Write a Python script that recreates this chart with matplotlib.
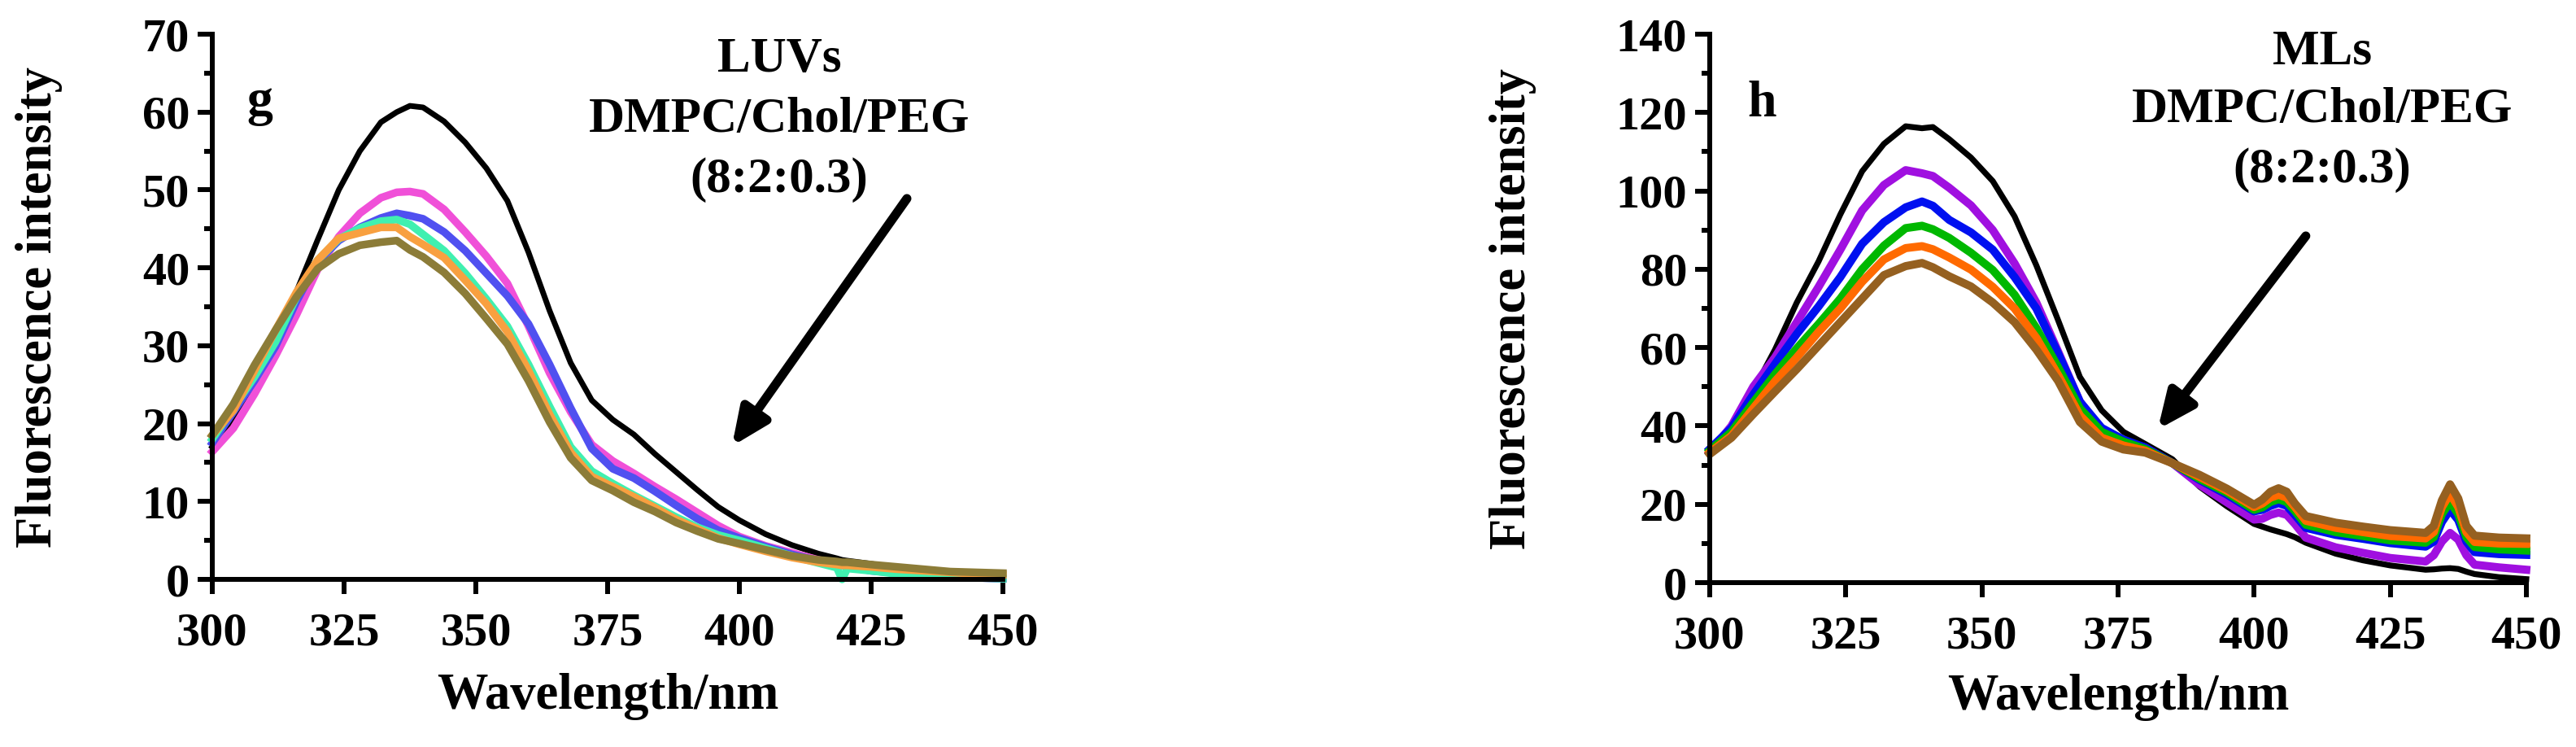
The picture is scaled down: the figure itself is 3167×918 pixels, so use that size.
import matplotlib
matplotlib.use("Agg")
import matplotlib.pyplot as plt
from matplotlib.ticker import MultipleLocator

plt.rcParams['font.family'] = ['Liberation Serif', 'DejaVu Serif']
plt.rcParams['font.weight'] = 'bold'

# ---------------- panel g (LUVs) ----------------
wl_g = [300, 304, 308, 312, 316, 320, 324, 328, 332, 335, 337.5, 340, 344, 348, 352, 356, 360,
        364, 368, 372, 376, 380, 384, 388, 392, 396, 400, 405, 410, 415, 418.5, 419.5, 420.5,
        425, 430, 435, 440, 445, 450]
g_black = [17, 20.2, 25, 30.2, 37, 43.6, 50, 55, 58.7, 60, 60.8, 60.6, 58.8, 56.1, 52.8, 48.6, 42,
           34.5, 27.8, 23, 20.5, 18.6, 16.1, 13.8, 11.5, 9.3, 7.6, 5.8, 4.4, 3.3, 2.7, 2.5, 2.4,
           2.0, 1.5, 1.1, 0.8, 0.6, 0.5]
g_pink = [16.4, 19.4, 23.8, 28.7, 34, 39.8, 44, 47, 49, 49.7, 49.8, 49.5, 47.5, 44.6, 41.5, 38, 32.5,
          26.5, 21.5, 17.3, 15.2, 13.6, 11.9, 10.3, 8.6, 6.9, 5.5, 4.3, 3.4, 2.5, 2.0, 1.9, 1.8,
          1.2, 0.8, 0.5, 0.3, 0.2, 0.1]
g_blue = [17.5, 21.5, 25.5, 29.9, 35.7, 40.8, 43.5, 45.2, 46.4, 47, 46.7, 46.3, 44.6, 42.2, 39.3, 36.4, 32.8,
          27.6, 22, 16.8, 14.2, 13, 11.3, 9.5, 7.8, 6.3, 5.3, 4.2, 3.2, 2.4, 1.9, 1.8, 1.7,
          1.1, 0.8, 0.5, 0.3, 0.2, 0.1]
g_teal = [18, 22, 26, 30.5, 36.3, 41, 43.7, 45.1, 46, 46.2, 45.6, 44.3, 42.2, 39.3, 36, 32.5, 27.6,
          22.2, 17, 13.9, 12.3, 10.8, 9.4, 8.0, 6.7, 5.7, 5.0, 4.0, 3.0, 2.1, 1.5, 0.0, 1.4,
          1.1, 0.7, 0.4, 0.3, 0.2, 0.1]
g_orange = [18.5, 21.7, 26.8, 32, 36.9, 41, 43.8, 44.5, 45.2, 45.2, 44, 43, 41.3, 38.4, 35.4, 31.8, 26.8,
            21.2, 16.3, 13.2, 11.9, 10.6, 9.2, 7.7, 6.5, 5.3, 4.5, 3.6, 2.8, 2.2, 1.9, 1.8, 1.8,
            1.6, 1.3, 1.1, 0.9, 0.7, 0.6]
g_olive = [18.5, 22.5, 27.5, 32, 36.3, 39.9, 41.8, 42.9, 43.3, 43.5, 42.3, 41.4, 39.4, 36.7, 33.5, 30.2, 25.5,
           20.2, 15.6, 12.7, 11.4, 9.9, 8.7, 7.3, 6.2, 5.2, 4.6, 3.8, 3.0, 2.5, 2.3, 2.2, 2.2,
           1.9, 1.6, 1.3, 1.0, 0.9, 0.8]

# ---------------- panel h (MLs) ----------------
wl_h = [300, 304, 308, 312, 316, 320, 324, 328, 332, 336, 339, 341, 344, 348, 352, 356, 360, 364, 368,
        372, 376, 380, 385, 390, 395, 400, 401.5, 403, 404.5, 406, 407.5, 409.5, 415, 420, 425,
        431.5, 433, 434.5, 436, 437.5, 439, 440.5, 445, 450]
h_black = [33.2, 38.5, 49, 59.5, 71.5, 82, 94, 105, 112, 116.5, 116, 116.3, 113.2, 108.5, 102.5, 93.5, 81, 67, 52.5,
           44, 38.5, 35.4, 31.5, 24.5, 19.5, 15, 14.3, 13.6, 13.0, 12.4, 11.6, 10.2, 7.4, 5.7, 4.4,
           3.3, 3.4, 3.6, 3.7, 3.5, 2.8, 2.2, 1.4, 0.9]
h_purple = [33.2, 40, 50, 57.5, 66.5, 75.5, 85, 95, 101.5, 105.3, 104.5, 103.8, 100.8, 96.3, 90, 81.5, 71.5, 59, 46.2,
            38.5, 36, 34.5, 30.5, 25, 20.5, 16.1, 16.3, 17.3, 17.9, 17.3, 15, 11.5, 9, 7.6, 6.3,
            5.4, 7, 10.5, 12.7, 11, 7, 4.6, 3.9, 3.3]
h_blue = [34.1, 39.5, 48, 55.8, 63.5, 70.5, 78, 86.5, 92, 95.8, 97.3, 96.2, 92.6, 89.4, 85, 78, 70, 58.5, 46.2,
          39.5, 36.5, 34.5, 30.5, 26.2, 22.5, 18.2, 18.6, 19.6, 20.3, 19.6, 17.3, 14.0, 12.2, 11.2, 10.1,
          9.2, 10.5, 15.5, 18.6, 16, 10.5, 7.8, 7.3, 7.1]
h_green = [33.7, 38.5, 46, 53.2, 59.8, 66, 72.5, 80, 86, 90.5, 91.1, 90.2, 88, 84.2, 79.8, 73.5, 65, 55, 44.5,
           38.5, 36, 34.1, 30.5, 26.5, 23, 18.6, 19.2, 20.6, 21.3, 20.6, 18.3, 14.8, 12.9, 11.9, 10.8,
           10.2, 11.6, 17.5, 20.6, 17.5, 11.6, 9.1, 8.5, 8.2]
h_orange = [33.2, 37.5, 44.5, 51.4, 57.5, 64, 70, 76.8, 82.5, 85.4, 85.9, 85.1, 83, 79.9, 75.5, 70, 62.5, 53, 42.7,
            37, 35, 33.7, 30.5, 27, 23.5, 19.3, 20.2, 21.7, 22.4, 21.7, 19.3, 15.8, 14, 12.9, 11.9,
            11.3, 12.9, 19.3, 22.7, 19.3, 12.9, 10.4, 10, 9.9]
h_brown = [32.8, 37, 43, 48.8, 54.5, 60.5, 66.5, 72.5, 78.5, 80.8, 81.6, 80.5, 78.2, 75.6, 71.5, 66.5, 59.5, 51.5, 41,
           36, 34, 33.2, 30.5, 27.5, 24, 19.9, 21.2, 23.2, 24.1, 23.2, 20.2, 17, 15.3, 14.3, 13.4,
           12.7, 14.5, 21, 25.1, 21.5, 14.5, 12, 11.5, 11.3]

x_ticks = [300, 325, 350, 375, 400, 425, 450]
xlabel = "Wavelength/nm"
ylabel = "Fluorescence intensity"
g_note = ["LUVs", "DMPC/Chol/PEG", "(8:2:0.3)"]
h_note = ["MLs", "DMPC/Chol/PEG", "(8:2:0.3)"]

fig = plt.figure(figsize=(31.67, 9.18), dpi=100)
axg = fig.add_axes([0.0824, 0.2244, 0.3069, 0.7298])
axh = fig.add_axes([0.6637, 0.2200, 0.3170, 0.7342])

g_series = [(g_black, '#000000', 5.0), (g_pink, '#F050D8', 6.8), (g_blue, '#5050F0', 6.8),
            (g_teal, '#40F0B0', 6.8), (g_orange, '#F8A040', 6.8), (g_olive, '#8C7C38', 6.8)]
for vals, c, lw in g_series:
    axg.plot(wl_g, vals, color=c, lw=lw, solid_joinstyle='round', clip_on=False)

h_series = [(h_black, '#000000', 5.2), (h_purple, '#A010E0', 7.2), (h_blue, '#0010F0', 7.2),
            (h_green, '#00B800', 7.2), (h_orange, '#FF6A00', 7.2), (h_brown, '#956020', 7.2)]
for vals, c, lw in h_series:
    axh.plot(wl_h, vals, color=c, lw=lw, solid_joinstyle='round', clip_on=False)

for ax, ymax, ymaj, ymin in [(axg, 70, 10, 5), (axh, 140, 20, 10)]:
    ax.set_xlim(300, 450)
    ax.set_ylim(0, ymax)
    ax.set_xticks(x_ticks)
    ax.yaxis.set_major_locator(MultipleLocator(ymaj))
    ax.yaxis.set_minor_locator(MultipleLocator(ymin))
    for s in ['top', 'right']:
        ax.spines[s].set_visible(False)
    for s in ['left', 'bottom']:
        ax.spines[s].set_linewidth(4.3)
    ax.tick_params(axis='both', which='major', length=13, width=4.3, labelsize=42)
    ax.tick_params(axis='x', which='major', pad=16)
    ax.tick_params(axis='y', which='major', pad=7)
    ax.tick_params(axis='y', which='minor', length=7, width=4.3)
    for lab in ax.get_xticklabels() + ax.get_yticklabels():
        lab.set_fontweight('bold')
    ax.set_xlabel(xlabel, fontsize=45, fontweight='bold')
    ax.set_ylabel(ylabel, fontsize=45, fontweight='bold', labelpad=70)

axg.xaxis.set_label_coords(0.5, -0.172)
axh.xaxis.set_label_coords(0.5, -0.166)

# panel letters
axg.text(306.5, 59.7, "g", fontsize=46, fontweight='bold', ha='left', va='baseline')
axh.text(306.9, 119.0, "h", fontsize=46, fontweight='bold', ha='left', va='baseline')

# annotations (one text per line, placed on its baseline)
for line, yb in zip(g_note, [65.2, 57.5, 49.7]):
    axg.text(407.6, yb, line, fontsize=44, fontweight='bold', ha='center', va='baseline',
             clip_on=False)
for line, yb in zip(h_note, [132.5, 117.6, 102.2]):
    axh.text(412.5, yb, line, fontsize=44, fontweight='bold', ha='center', va='baseline',
             clip_on=False)

arrow_kw = dict(arrowstyle='-|>,head_length=0.45,head_width=0.2', lw=8, color='black',
                shrinkA=0, shrinkB=0, mutation_scale=60)
axg.annotate('', xy=(398.6, 17.1), xytext=(431.8, 48.9), arrowprops=arrow_kw)
axh.annotate('', xy=(382.3, 39.1), xytext=(409.5, 88.5), arrowprops=arrow_kw)

fig.savefig("out.png", dpi=100)
